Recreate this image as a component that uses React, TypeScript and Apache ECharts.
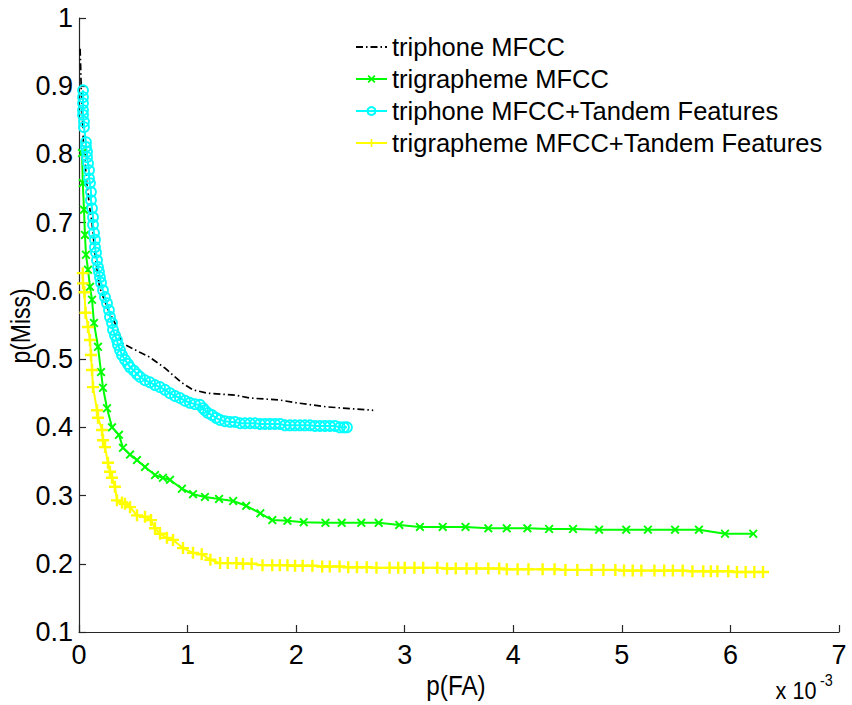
import React, { useEffect, useRef } from 'react';
import * as echarts from 'echarts';

const seriesNames = [
  'triphone MFCC',
  'trigrapheme MFCC',
  'triphone MFCC+Tandem Features',
  'trigrapheme MFCC+Tandem Features',
];

const xTickValues = [0, 1, 2, 3, 4, 5, 6, 7];
const yTickValues = [0.1, 0.2, 0.3, 0.4, 0.5, 0.6, 0.7, 0.8, 0.9, 1];

// p(FA) in units of 1e-3, p(Miss)
const triphoneMfcc: [number, number][] = [
  [0.01, 0.955], [0.015, 0.93], [0.02, 0.9], [0.04, 0.82], [0.07, 0.76], [0.1, 0.72],
  [0.12, 0.70], [0.15, 0.65], [0.19, 0.605], [0.26, 0.575], [0.35, 0.547], [0.4, 0.523],
  [0.56, 0.51], [0.65, 0.503], [0.79, 0.487], [0.95, 0.465], [1.05, 0.455], [1.18, 0.45],
  [1.45, 0.447], [1.57, 0.443], [1.85, 0.44], [2.0, 0.436], [2.28, 0.43], [2.71, 0.425],
];

const trigraphemeMfcc: [number, number][] = [
  [0.028, 0.802], [0.035, 0.758], [0.046, 0.719], [0.055, 0.682], [0.064, 0.653], [0.083, 0.631],
  [0.101, 0.606], [0.12, 0.587], [0.138, 0.553], [0.175, 0.518], [0.203, 0.481], [0.221, 0.458],
  [0.258, 0.428], [0.304, 0.40], [0.368, 0.389], [0.405, 0.37], [0.47, 0.36], [0.534, 0.352],
  [0.608, 0.342], [0.70, 0.33], [0.773, 0.326], [0.838, 0.323], [0.948, 0.31], [1.05, 0.302],
  [1.16, 0.298], [1.29, 0.295], [1.42, 0.292], [1.54, 0.285], [1.67, 0.274], [1.78, 0.264],
  [1.92, 0.263], [2.07, 0.261], [2.27, 0.26], [2.42, 0.26], [2.60, 0.26], [2.76, 0.26],
  [2.95, 0.257], [3.14, 0.254], [3.35, 0.254], [3.56, 0.254], [3.77, 0.252], [3.94, 0.252],
  [4.13, 0.252], [4.33, 0.251], [4.55, 0.251], [4.79, 0.25], [5.04, 0.25], [5.24, 0.25],
  [5.49, 0.25], [5.71, 0.25], [5.95, 0.244], [6.21, 0.244],
];

const triphoneTandem: [number, number][] = [
  [0.037, 0.894], [0.037, 0.884], [0.037, 0.875], [0.037, 0.865], [0.037, 0.858], [0.046, 0.848],
  [0.046, 0.840], [0.064, 0.818], [0.064, 0.811], [0.074, 0.804], [0.074, 0.796], [0.083, 0.787],
  [0.092, 0.777], [0.092, 0.765], [0.101, 0.758], [0.110, 0.745], [0.110, 0.733], [0.120, 0.721],
  [0.129, 0.708], [0.129, 0.697], [0.138, 0.685], [0.147, 0.675], [0.147, 0.664], [0.157, 0.656],
  [0.166, 0.645], [0.175, 0.635], [0.184, 0.628], [0.193, 0.620], [0.203, 0.612], [0.221, 0.601],
  [0.239, 0.591], [0.258, 0.582], [0.276, 0.572], [0.285, 0.562], [0.304, 0.553], [0.313, 0.543],
  [0.331, 0.535], [0.350, 0.528], [0.359, 0.521], [0.378, 0.513], [0.396, 0.506], [0.424, 0.499],
  [0.451, 0.493], [0.470, 0.488], [0.506, 0.483], [0.534, 0.478], [0.562, 0.474], [0.608, 0.469],
  [0.654, 0.466], [0.700, 0.462], [0.746, 0.459], [0.792, 0.455], [0.838, 0.450], [0.884, 0.446],
  [0.930, 0.443], [0.976, 0.439], [1.022, 0.436], [1.068, 0.434], [1.114, 0.433], [1.142, 0.428],
  [1.160, 0.425], [1.188, 0.421], [1.225, 0.418], [1.262, 0.414], [1.298, 0.411], [1.344, 0.409],
  [1.390, 0.408], [1.436, 0.408], [1.483, 0.406], [1.529, 0.406], [1.575, 0.406], [1.621, 0.406],
  [1.667, 0.405], [1.713, 0.405], [1.759, 0.405], [1.805, 0.405], [1.851, 0.405], [1.897, 0.403],
  [1.943, 0.403], [1.989, 0.403], [2.035, 0.403], [2.081, 0.403], [2.127, 0.403], [2.173, 0.402],
  [2.219, 0.402], [2.265, 0.402], [2.311, 0.402], [2.357, 0.402], [2.403, 0.400], [2.440, 0.400],
  [2.468, 0.400],
];

const trigraphemeTandem: [number, number][] = [
  [0.035, 0.626], [0.037, 0.611], [0.05, 0.598], [0.06, 0.568], [0.083, 0.547], [0.101, 0.528],
  [0.11, 0.506], [0.12, 0.484], [0.129, 0.459], [0.166, 0.425], [0.175, 0.414], [0.212, 0.396],
  [0.221, 0.381], [0.24, 0.371], [0.267, 0.348], [0.285, 0.335], [0.304, 0.326], [0.331, 0.313],
  [0.35, 0.293], [0.396, 0.29], [0.424, 0.288], [0.47, 0.283], [0.534, 0.271], [0.608, 0.269],
  [0.663, 0.264], [0.70, 0.252], [0.746, 0.244], [0.81, 0.238], [0.866, 0.235], [0.958, 0.223],
  [1.05, 0.216], [1.13, 0.214], [1.21, 0.206], [1.30, 0.201], [1.37, 0.201], [1.45, 0.201],
  [1.51, 0.20], [1.59, 0.20], [1.69, 0.198], [1.78, 0.198], [1.85, 0.198], [1.92, 0.198],
  [1.99, 0.197], [2.06, 0.197], [2.15, 0.197], [2.24, 0.196], [2.31, 0.196], [2.40, 0.196],
  [2.48, 0.195], [2.56, 0.195], [2.65, 0.195], [2.74, 0.194], [2.86, 0.194], [2.94, 0.194],
  [3.0, 0.194], [3.09, 0.194], [3.17, 0.194], [3.30, 0.194], [3.39, 0.193], [3.47, 0.193],
  [3.57, 0.193], [3.66, 0.193], [3.77, 0.193], [3.87, 0.193], [3.94, 0.192], [4.04, 0.192],
  [4.14, 0.192], [4.27, 0.192], [4.38, 0.192], [4.48, 0.191], [4.59, 0.191], [4.72, 0.191],
  [4.83, 0.191], [4.94, 0.191], [5.02, 0.190], [5.10, 0.190], [5.18, 0.190], [5.30, 0.190],
  [5.39, 0.190], [5.47, 0.190], [5.56, 0.190], [5.65, 0.189], [5.75, 0.189], [5.82, 0.189],
  [5.88, 0.189], [5.98, 0.189], [6.06, 0.188], [6.14, 0.188], [6.22, 0.188], [6.30, 0.188],
];

const X_SYMBOL = 'path://M1.5,0L5,3.5L8.5,0L10,1.5L6.5,5L10,8.5L8.5,10L5,6.5L1.5,10L0,8.5L3.5,5L0,1.5Z';
const PLUS_SYMBOL = 'path://M4,0H6V4H10V6H6V10H4V6H0V4H4Z';

const FONT = "'Liberation Sans', Arial, Helvetica, sans-serif";

export default function App() {
  const ref = useRef<HTMLDivElement>(null);
  useEffect(() => {
    const chart = echarts.init(ref.current!, null, { renderer: 'svg' });
    const axisCommon = {
      axisLine: { show: true, lineStyle: { color: '#262626', width: 1.2 } },
      axisTick: { show: true, inside: true, length: 7, lineStyle: { color: '#262626', width: 1.2 } },
      splitLine: { show: false },
    };
    chart.setOption({
      animation: false,
      backgroundColor: '#fff',
      grid: { left: 79, right: 13, top: 18, bottom: 73, containLabel: false },
      xAxis: {
        type: 'value',
        min: xTickValues[0],
        max: xTickValues[xTickValues.length - 1],
        interval: 1,
        ...axisCommon,
        axisLabel: {
          margin: 9,
          color: '#000',
          fontSize: 27,
          fontFamily: FONT,
          formatter: (v: number) => String(Math.round(v)),
        },
      },
      yAxis: {
        type: 'value',
        min: yTickValues[0],
        max: yTickValues[yTickValues.length - 1],
        interval: 0.1,
        ...axisCommon,
        axisLabel: {
          margin: 6,
          color: '#000',
          fontSize: 27,
          fontFamily: FONT,
          formatter: (v: number) => String(Number(v.toFixed(1))),
        },
      },
      legend: {
        show: true,
        orient: 'vertical',
        left: 355,
        top: 34,
        padding: 0,
        itemWidth: 31,
        itemHeight: 10,
        itemGap: 6,
        selectedMode: false,
        data: [
          { name: seriesNames[0], itemStyle: { color: 'rgba(0,0,0,0)', borderWidth: 0 } },
          { name: seriesNames[1] },
          { name: seriesNames[2] },
          { name: seriesNames[3] },
        ],
        textStyle: { fontSize: 25.5, color: '#000', fontFamily: FONT, lineHeight: 25.5 },
      },
      graphic: [
        {
          type: 'text',
          x: 20,
          y: 326,
          rotation: Math.PI / 2,
          scaleX: 0.85,
          style: { text: 'p(Miss)', fontSize: 27, fontFamily: FONT, fill: '#000', align: 'center', verticalAlign: 'middle' },
        },
        {
          type: 'text',
          x: 456,
          y: 686,
          scaleX: 0.9,
          style: { text: 'p(FA)', fontSize: 27, fontFamily: FONT, fill: '#000', align: 'center', verticalAlign: 'middle' },
        },
        {
          type: 'text',
          x: 796,
          y: 691,
          scaleX: 0.9,
          style: { text: 'x 10', fontSize: 24, fontFamily: FONT, fill: '#000', align: 'center', verticalAlign: 'middle' },
        },
        {
          type: 'text',
          x: 820,
          y: 680,
          scaleX: 0.9,
          style: { text: '-3', fontSize: 16, fontFamily: FONT, fill: '#000', align: 'left', verticalAlign: 'middle' },
        },
      ],
      series: [
        {
          name: seriesNames[0],
          type: 'line',
          data: triphoneMfcc,
          showSymbol: false,
          symbol: 'none',
          itemStyle: { color: '#000' },
          lineStyle: { color: '#000', width: 1.7, type: [7, 3, 1.5, 3] },
        },
        {
          name: seriesNames[1],
          type: 'line',
          data: trigraphemeMfcc,
          symbol: X_SYMBOL,
          symbolSize: 9,
          itemStyle: { color: '#00ff00' },
          lineStyle: { color: '#00ff00', width: 2 },
        },
        {
          name: seriesNames[2],
          type: 'line',
          data: triphoneTandem,
          symbol: 'circle',
          symbolSize: 10,
          itemStyle: { color: 'rgba(0,0,0,0)', borderColor: '#00ffff', borderWidth: 1.8 },
          lineStyle: { color: '#00ffff', width: 2 },
        },
        {
          name: seriesNames[3],
          type: 'line',
          data: trigraphemeTandem,
          symbol: PLUS_SYMBOL,
          symbolSize: 12,
          itemStyle: { color: '#ffff00' },
          lineStyle: { color: '#ffff00', width: 2 },
        },
      ],
    });
    return () => chart.dispose();
  }, []);
  return (
    <div
      ref={ref}
      style={{ position: 'fixed', left: 0, top: 0, width: 852, height: 705, background: '#fff' }}
    />
  );
}
